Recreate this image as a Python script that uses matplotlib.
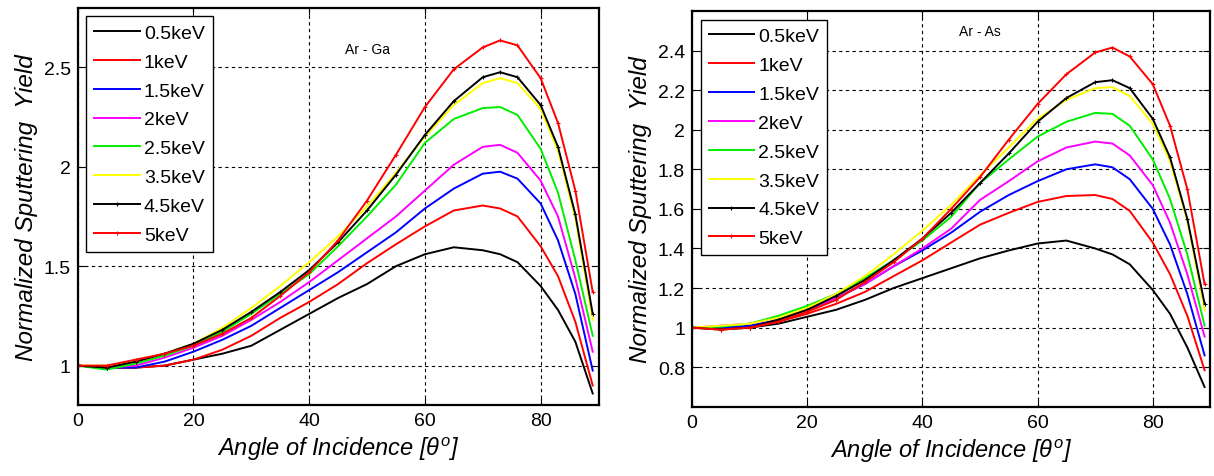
import numpy as np
import matplotlib.pyplot as plt

# angle of incidence (deg)
angle = [0, 5, 10, 15, 20, 25, 30, 35, 40, 45, 50, 55, 60, 65, 70, 73, 76, 80, 83, 86, 89]
energies = ['0.5keV', '1keV', '1.5keV', '2keV', '2.5keV', '3.5keV', '4.5keV', '5keV']

# Ar - Ga
ga_05 = [1.00, 0.99, 0.99, 1.00, 1.03, 1.06, 1.10, 1.18, 1.26, 1.34, 1.41, 1.50, 1.56, 1.595, 1.58, 1.56, 1.52, 1.40, 1.28, 1.12, 0.86]
ga_1 = [1.00, 0.99, 0.99, 1.00, 1.03, 1.08, 1.15, 1.24, 1.32, 1.41, 1.515, 1.61, 1.70, 1.78, 1.805, 1.79, 1.75, 1.60, 1.45, 1.22, 0.90]
ga_15 = [1.00, 0.99, 0.99, 1.02, 1.07, 1.13, 1.20, 1.29, 1.38, 1.47, 1.57, 1.67, 1.79, 1.89, 1.965, 1.975, 1.94, 1.815, 1.63, 1.36, 0.975]
ga_2 = [1.00, 0.99, 1.00, 1.04, 1.09, 1.15, 1.23, 1.32, 1.42, 1.53, 1.64, 1.75, 1.88, 2.01, 2.10, 2.11, 2.07, 1.93, 1.75, 1.44, 1.07]
ga_25 = [1.00, 0.98, 1.01, 1.05, 1.10, 1.17, 1.26, 1.36, 1.46, 1.60, 1.75, 1.91, 2.12, 2.24, 2.295, 2.30, 2.26, 2.09, 1.87, 1.53, 1.15]
ga_35 = [1.00, 1.00, 1.02, 1.06, 1.11, 1.19, 1.29, 1.40, 1.52, 1.65, 1.80, 1.97, 2.15, 2.31, 2.42, 2.445, 2.42, 2.29, 2.08, 1.74, 1.23]
ga_45 = [1.00, 0.99, 1.02, 1.06, 1.11, 1.18, 1.27, 1.37, 1.48, 1.62, 1.78, 1.96, 2.16, 2.33, 2.45, 2.475, 2.45, 2.31, 2.10, 1.76, 1.26]
ga_5 = [1.00, 1.00, 1.03, 1.06, 1.10, 1.16, 1.24, 1.35, 1.47, 1.63, 1.83, 2.06, 2.30, 2.49, 2.60, 2.635, 2.61, 2.445, 2.22, 1.88, 1.37]

# Ar - As
as_05 = [1.00, 0.995, 1.00, 1.02, 1.055, 1.09, 1.14, 1.20, 1.25, 1.30, 1.35, 1.39, 1.425, 1.44, 1.40, 1.37, 1.32, 1.19, 1.07, 0.90, 0.70]
as_1 = [1.00, 1.00, 1.00, 1.03, 1.07, 1.12, 1.18, 1.26, 1.34, 1.43, 1.52, 1.58, 1.635, 1.665, 1.67, 1.65, 1.59, 1.43, 1.27, 1.06, 0.785]
as_15 = [1.00, 1.00, 1.01, 1.04, 1.09, 1.15, 1.22, 1.31, 1.39, 1.48, 1.585, 1.67, 1.74, 1.80, 1.825, 1.81, 1.75, 1.60, 1.42, 1.17, 0.86]
as_2 = [1.00, 1.01, 1.02, 1.05, 1.09, 1.15, 1.22, 1.31, 1.40, 1.50, 1.645, 1.74, 1.84, 1.91, 1.94, 1.93, 1.87, 1.72, 1.53, 1.27, 0.955]
as_25 = [1.00, 1.005, 1.02, 1.06, 1.11, 1.17, 1.25, 1.34, 1.44, 1.56, 1.73, 1.85, 1.965, 2.04, 2.085, 2.08, 2.02, 1.85, 1.65, 1.37, 1.01]
as_35 = [1.00, 1.01, 1.02, 1.05, 1.10, 1.17, 1.26, 1.37, 1.49, 1.62, 1.77, 1.91, 2.055, 2.15, 2.21, 2.215, 2.17, 2.03, 1.84, 1.54, 1.09]
as_45 = [1.00, 0.99, 1.00, 1.04, 1.09, 1.16, 1.24, 1.34, 1.45, 1.58, 1.73, 1.88, 2.04, 2.16, 2.24, 2.25, 2.21, 2.055, 1.86, 1.55, 1.12]
as_5 = [1.00, 0.99, 1.00, 1.03, 1.08, 1.14, 1.23, 1.33, 1.45, 1.60, 1.76, 1.95, 2.13, 2.28, 2.39, 2.415, 2.37, 2.23, 2.02, 1.70, 1.22]

colors = ['black', 'red', 'blue', 'magenta', '#00ee00', '#ffff00', 'black', 'red']
markers = [None, None, None, None, None, None, '+', '+']

plt.rcParams['font.family'] = ['Liberation Sans', 'DejaVu Sans']
plt.rcParams['mathtext.fontset'] = 'custom'
plt.rcParams['mathtext.it'] = 'Liberation Sans:italic'

fig = plt.figure(figsize=(12.14, 4.77), dpi=100)
ax1 = fig.add_axes([0.064, 0.148, 0.429, 0.834])
ax2 = fig.add_axes([0.570, 0.145, 0.427, 0.830])


def draw(ax, series, ylim, yticks, ytl, tag, tagpos):
    for s, c, m, lab in zip(series, colors, markers, energies):
        ax.plot(angle, s, color=c, lw=1.4, marker=m, ms=3.5, mew=0.8, label=lab)
    ax.set_xlim(0, 90)
    ax.set_ylim(*ylim)
    ax.set_xticks([0, 20, 40, 60, 80])
    ax.set_yticks(yticks)
    ax.set_yticklabels(ytl)
    ax.tick_params(direction='in', top=True, right=True, labelsize=14, length=5, pad=5)
    ax.grid(True, color='black', linestyle=(0, (3, 3)), lw=0.8)
    for sp in ax.spines.values():
        sp.set_linewidth(1.6)
    ax.set_xlabel(r'Angle of Incidence [$\theta^{o}$]', fontsize=17, style='italic', labelpad=4)
    ax.set_ylabel('Normalized Sputtering  Yield', fontsize=17.5, style='italic', labelpad=4)
    ax.text(tagpos[0], tagpos[1], tag, fontsize=10, ha='center', va='center')
    leg = ax.legend(loc='upper left', fontsize=14, fancybox=False, edgecolor='black',
                    framealpha=1, handlelength=2.35, handletextpad=0.2, borderpad=0.4,
                    labelspacing=0.58, borderaxespad=0.45)
    leg.get_frame().set_linewidth(1.0)


draw(ax1, [ga_05, ga_1, ga_15, ga_2, ga_25, ga_35, ga_45, ga_5], (0.8, 2.8),
     [1, 1.5, 2, 2.5], ['1', '1.5', '2', '2.5'], 'Ar - Ga', (50, 2.59))
draw(ax2, [as_05, as_1, as_15, as_2, as_25, as_35, as_45, as_5], (0.6, 2.6),
     [0.8, 1, 1.2, 1.4, 1.6, 1.8, 2, 2.2, 2.4],
     ['0.8', '1', '1.2', '1.4', '1.6', '1.8', '2', '2.2', '2.4'], 'Ar - As', (50, 2.50))

fig.savefig('out.png', dpi=100)
